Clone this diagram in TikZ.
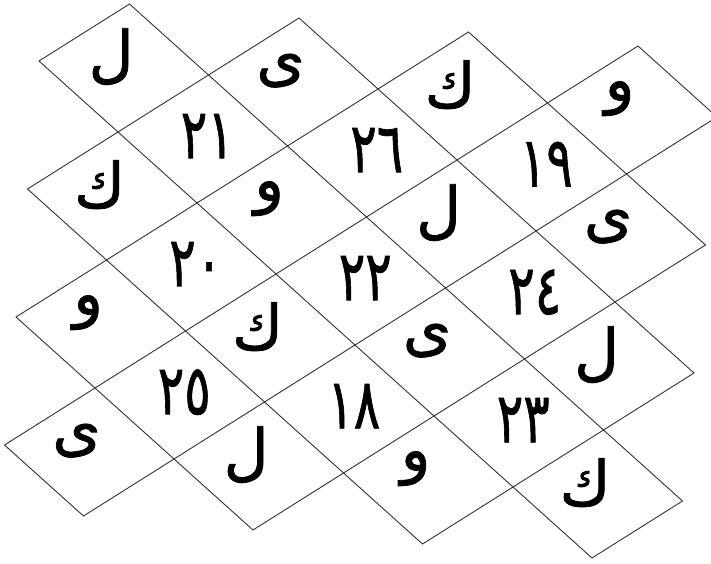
\documentclass[tikz,border=0pt]{standalone}
\usepackage{fontspec}
\newfontfamily\arabicfont[Script=Arabic,FakeBold=1.2]{DejaVu Sans}
\tikzset{
  cellline/.style={draw=black!80, line width=0.9pt, line join=miter},
  letter/.style={font=\arabicfont\fontsize{62}{70}\selectfont, inner sep=0pt},
  number/.style={font=\arabicfont\fontsize{58}{70}\selectfont, inner sep=0pt},
}
\begin{document}
\begin{tikzpicture}[shift={(39pt,-61pt)}, x={(90.5pt,57pt)}, y={(79pt,-71pt)}]
\useasboundingbox (-39pt,61pt) rectangle (672pt,-502pt);
\fill[white] (-39pt,61pt) rectangle (672pt,-502pt);
% letter cells
\foreach \r/\c/\t in {0/0/ل,0/1/ی,0/2/ك,0/3/و,
                      1/0/ك,1/1/و,1/2/ل,1/3/ی,
                      2/0/و,2/1/ك,2/2/ی,2/3/ل,
                      3/0/ی,3/1/ل,3/2/و,3/3/ك}{
  \draw[cellline] ({\c-\r},{\c+\r}) -- ({\c-\r+1},{\c+\r}) -- ({\c-\r+1},{\c+\r+1}) -- ({\c-\r},{\c+\r+1}) -- cycle;
  \node[letter] (L\r\c) at ({\c-\r+0.5},{\c+\r+0.34}) {\t};
}
% number cells
\foreach \r/\c/\t in {0/0/٢١,0/1/٢٦,0/2/١٩,
                      1/0/٢٠,1/1/٢٢,1/2/٢٤,
                      2/0/٢٥,2/1/١٨,2/2/٢٣}{
  \node[number] (N\r\c) at ({\c-\r+0.55},{\c+\r+1.5}) {\scalebox{0.85}[1.2]{\t}};
}
\end{tikzpicture}
\end{document}
